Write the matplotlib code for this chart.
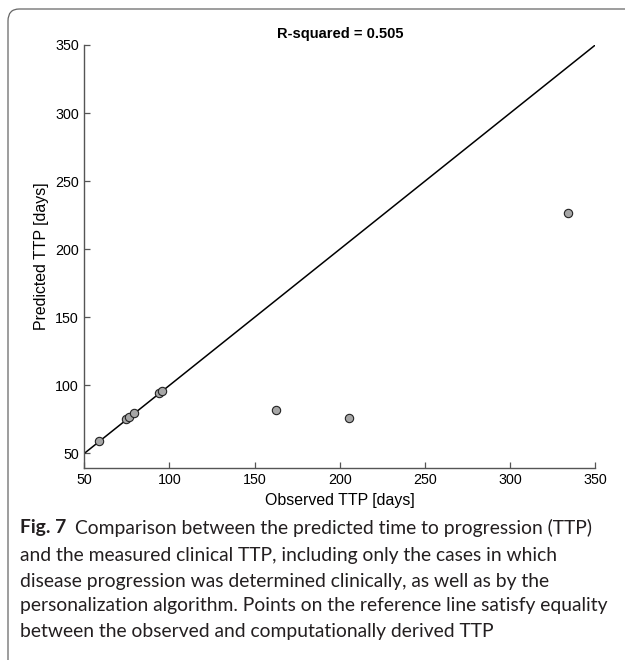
import matplotlib
matplotlib.use("Agg")
import matplotlib.pyplot as plt
from matplotlib.patches import FancyBboxPatch

# observed vs predicted time to progression (days)
observed = [58.6, 74.3, 76.4, 79.0, 94.0, 95.6, 162.5, 205.6, 333.8]
predicted = [59.2, 75.1, 77.0, 79.7, 94.4, 96.2, 81.9, 76.0, 226.4]
ref_line = [50, 350]
x_ticks = [50, 100, 150, 200, 250, 300, 350]
y_ticks = [50, 100, 150, 200, 250, 300, 350]
r_squared = 0.505

caption_lines = [
    "Comparison between the predicted time to progression (TTP)",
    "and the measured clinical TTP, including only the cases in which",
    "disease progression was determined clinically, as well as by the",
    "personalization algorithm. Points on the reference line satisfy equality",
    "between the observed and computationally derived TTP",
]

W, H = 625, 660
fig = plt.figure(figsize=(W / 100, H / 100), dpi=100)

# rounded frame round the figure (cut off at right and bottom)
frame = FancyBboxPatch((8 / W, -20 / H), (W + 20) / W, (H - 9 + 20) / H,
                       boxstyle="round,pad=0,rounding_size=0.018",
                       transform=fig.transFigure, facecolor="none",
                       edgecolor="#666666", linewidth=0.9, clip_on=False)
fig.patches.append(frame)

ax = fig.add_axes([84.3 / W, 1 - 467.7 / H, (595.3 - 84.3) / W, (467.7 - 45) / H])
tick_font = "Liberation Sans"

ax.plot(ref_line, ref_line, color="black", linewidth=1.1, zorder=2)
ax.plot(observed, predicted, linestyle="none", marker="o", markersize=6,
        markerfacecolor="#a6a6a6", markeredgecolor="#222222",
        markeredgewidth=0.8, zorder=3)

ax.set_xlim(50, 350)
ax.set_ylim(39.5, 350)
ax.set_xticks(x_ticks)
ax.set_yticks(y_ticks)
for s in ["top", "right"]:
    ax.spines[s].set_visible(False)
for s in ["left", "bottom"]:
    ax.spines[s].set_color("#555555")
    ax.spines[s].set_linewidth(1.0)
ax.tick_params(direction="in", length=4, width=0.9, color="#555555",
               labelsize=10.3, pad=4)
for lab in ax.get_xticklabels() + ax.get_yticklabels():
    lab.set_fontfamily(tick_font)

ax.set_title(f"R-squared = {r_squared}", fontfamily=tick_font,
             fontweight="bold", fontsize=10.5, pad=5)
ax.set_xlabel("Observed TTP [days]", fontfamily=tick_font, fontsize=11.4, labelpad=4)
ax.set_ylabel("Predicted TTP [days]", fontfamily=tick_font, fontsize=11.4, labelpad=4)

# caption
cap_font = "Lato"
cap_size = 13.9
x0 = 20 / W
y_lines = [528, 555, 581, 606, 631]
fig_lab = fig.text(x0, 1 - y_lines[0] / H, "Fig. 7", fontfamily=cap_font,
                   fontweight="bold", fontsize=cap_size, va="center", color="#231f20")
fig.canvas.draw()
bb = fig_lab.get_window_extent()
fig.text(bb.x1 / W + 9 / W, 1 - y_lines[0] / H, caption_lines[0],
         fontfamily=cap_font, fontsize=cap_size, va="center", color="#231f20")
for line, yy in zip(caption_lines[1:], y_lines[1:]):
    fig.text(x0, 1 - yy / H, line, fontfamily=cap_font, fontsize=cap_size,
             va="center", color="#231f20")

fig.savefig("out.png", dpi=100)
